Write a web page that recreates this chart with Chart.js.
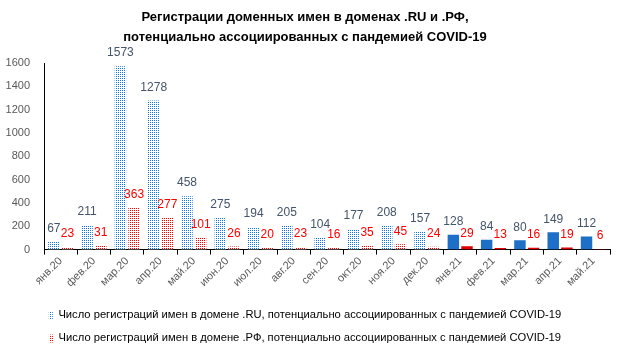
<!DOCTYPE html>
<html>
<head>
<meta charset="utf-8">
<script src="https://cdn.jsdelivr.net/npm/chart.js@4/dist/chart.umd.min.js"></script>
<style>
  html, body { margin: 0; padding: 0; background: #fff; }
  #wrap { width: 624px; height: 354px; position: relative; }
</style>
</head>
<body>
<div id="wrap"><canvas id="chart" width="624" height="354"></canvas></div>
<script>
// Data
const months = ['янв.20', 'фев.20', 'мар.20', 'апр.20', 'май.20', 'июн.20', 'июл.20', 'авг.20', 'сен.20',
    'окт.20', 'ноя.20', 'дек.20', 'янв.21', 'фев.21', 'мар.21', 'апр.21', 'май.21'];
const ruValues = [67, 211, 1573, 1278, 458, 275, 194, 205, 104, 177, 208, 157, 128, 84, 80, 149, 112];
const rfValues = [23, 31, 363, 277, 101, 26, 20, 23, 16, 35, 45, 24, 29, 13, 16, 19, 6];
const yTicks = [0, 200, 400, 600, 800, 1000, 1200, 1400, 1600];
const ruLabel = 'Число регистраций имен в домене .RU, потенциально ассоциированных с пандемией COVID-19';
const rfLabel = 'Число регистраций имен в домене .РФ, потенциально ассоциированных с пандемией COVID-19';
const titleLines = ['Регистрации доменных имен в доменах .RU и .РФ,', 'потенциально ассоциированных с пандемией COVID-19'];

const FONT = "'Liberation Sans', Arial, sans-serif";

// dotted fill (2x2 tile, one coloured pixel)
function dots(color) {
    const c = document.createElement('canvas');
    c.width = 2; c.height = 2;
    const g = c.getContext('2d');
    g.fillStyle = '#ffffff';
    g.fillRect(0, 0, 2, 2);
    g.fillStyle = color;
    g.fillRect(0, 0, 1, 1);
    return g.createPattern(c, 'repeat');
}

const blueDots = dots('#1273e6');
const redDots = dots('#ff0000');
const blueSolid = '#1d6fc7';
const redSolid = '#e00000';

// 2020 is dotted, 2021 solid
const ruColors = months.map(m => m.endsWith('20') ? blueDots : blueSolid);
const rfColors = months.map(m => m.endsWith('20') ? redDots : redSolid);

// value labels above bars
const barLabels = {
    id: 'barLabels',
    afterDatasetsDraw(chart) {
        const ctx = chart.ctx;
        ctx.save();
        ctx.font = '12px ' + FONT;
        ctx.textAlign = 'center';
        ctx.textBaseline = 'middle';
        chart.data.datasets.forEach((ds, i) => {
            const meta = chart.getDatasetMeta(i);
            ctx.fillStyle = i === 0 ? '#44546a' : '#ff0000';
            meta.data.forEach((bar, j) => {
                ctx.fillText(String(ds.data[j]), bar.x, bar.y - 13);
            });
        });
        ctx.restore();
    }
};

new Chart(document.getElementById('chart'), {
    type: 'bar',
    data: {
        labels: months,
        datasets: [
            { label: ruLabel, data: ruValues, backgroundColor: ruColors, barPercentage: 0.84, categoryPercentage: 0.82 },
            { label: rfLabel, data: rfValues, backgroundColor: rfColors, barPercentage: 0.84, categoryPercentage: 0.82 }
        ]
    },
    options: {
        responsive: false,
        animation: false,
        layout: { padding: { left: 0, right: 14, top: 4, bottom: 0 } },
        scales: {
            x: {
                grid: { display: true, drawOnChartArea: false, offset: true, tickLength: 5, color: '#000' },
                border: { color: '#000', width: 1 },
                ticks: { color: '#595959', font: { family: FONT, size: 11 }, maxRotation: 45, minRotation: 45, padding: 0 },
                afterFit(scale) { scale.height = 48; }
            },
            y: {
                min: 0, max: 1600,
                afterBuildTicks(scale) { scale.ticks = yTicks.map(v => ({ value: v })); },
                grid: { display: false },
                border: { color: '#000', width: 1 },
                ticks: { color: '#595959', font: { family: FONT, size: 11 }, padding: 6, callback: v => String(v) },
                afterFit(scale) { scale.width = 44; }
            }
        },
        plugins: {
            title: {
                display: true,
                text: titleLines,
                color: '#000',
                font: { family: FONT, size: 13, weight: 'bold', lineHeight: 1.5 },
                padding: { top: 4, bottom: 16 }
            },
            legend: {
                position: 'bottom',
                labels: {
                    color: '#000',
                    font: { family: FONT, size: 11.2 },
                    boxWidth: 4,
                    boxHeight: 8,
                    padding: 12,
                    generateLabels(chart) {
                        return chart.data.datasets.map((ds, i) => ({
                            text: ds.label,
                            fillStyle: i === 0 ? blueDots : redDots,
                            strokeStyle: 'rgba(0,0,0,0)',
                            lineWidth: 0,
                            datasetIndex: i
                        }));
                    }
                }
            },
            tooltip: { enabled: false }
        }
    },
    plugins: [barLabels]
});
</script>
</body>
</html>
